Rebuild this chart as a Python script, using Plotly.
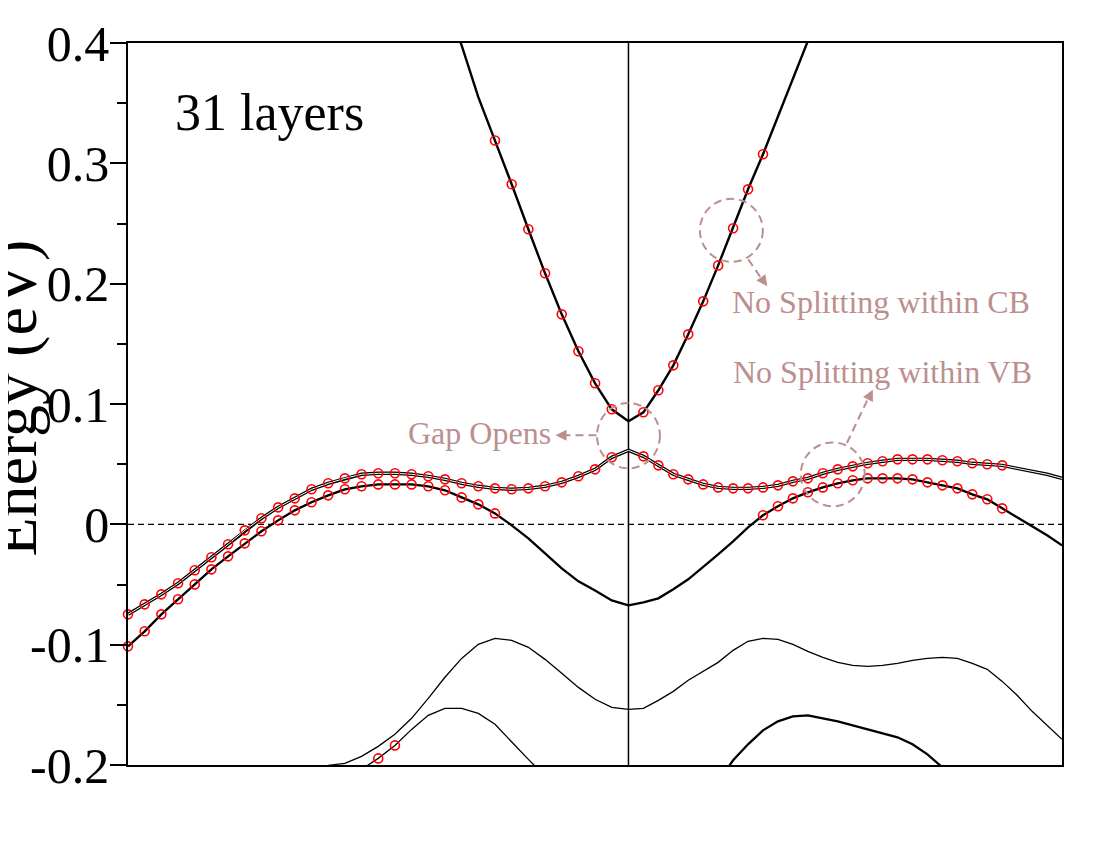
import numpy as np
import plotly.graph_objects as go

# ---------------- data (energies in eV) ----------------
# k-path sampling: 30 steps from the left zone edge to Gamma, 29 steps from Gamma to the right edge
K_LEFT = np.linspace(-1.0, 0.0, 31)
K_RIGHT = np.linspace(0.0, 0.8663, 30)

CB_LEFT = [None] * 19 + [0.439, 0.398, 0.355, 0.319, 0.2826, 0.2452, 0.2086, 0.1745,
                         0.1438, 0.1172, 0.0956, 0.0856]
CB_RIGHT = [0.0856, 0.0931, 0.1114, 0.1321, 0.1579, 0.1853, 0.2152, 0.2460, 0.2784,
            0.3075, 0.339, 0.3706, 0.4014, 0.433] + [None] * 16

VBA_LEFT = [-0.0748, -0.0665, -0.0582, -0.0490, -0.0382, -0.0274, -0.0166, -0.0050,
            0.0050, 0.0141, 0.0216, 0.0291, 0.0341, 0.0382, 0.0416, 0.0424, 0.0424,
            0.0416, 0.0399, 0.0374, 0.0341, 0.0316, 0.0299, 0.0291, 0.0299, 0.0316,
            0.0349, 0.0399, 0.0457, 0.0557, 0.0615]
VBA_RIGHT = [0.0615, 0.0565, 0.0490, 0.0416, 0.0374, 0.0332, 0.0307, 0.0299, 0.0299,
             0.0307, 0.0324, 0.0357, 0.0382, 0.0424, 0.0457, 0.0482, 0.0507, 0.0524,
             0.0540, 0.0540, 0.0540, 0.0532, 0.0524, 0.0507, 0.0499, 0.0490, 0.0465,
             0.0440, 0.0416, 0.0382]

VBB_LEFT = [-0.1014, -0.0889, -0.0748, -0.0623, -0.0499, -0.0374, -0.0266, -0.0158,
            -0.0058, 0.0033, 0.0116, 0.0183, 0.0241, 0.0291, 0.0316, 0.0332, 0.0332,
            0.0332, 0.0316, 0.0283, 0.0224, 0.0166, 0.0091, -0.0008, -0.0116, -0.0241,
            -0.0366, -0.0474, -0.0549, -0.0632, -0.0673]
VBB_RIGHT = [-0.0673, -0.0648, -0.0615, -0.0540, -0.0457, -0.0357, -0.0249, -0.0141,
             -0.0025, 0.0075, 0.0150, 0.0216, 0.0266, 0.0307, 0.0341, 0.0366, 0.0382,
             0.0382, 0.0382, 0.0374, 0.0349, 0.0324, 0.0299, 0.0249, 0.0208, 0.0133,
             0.0058, -0.0017, -0.0091, -0.0175]

VBC_LEFT = [None] * 10 + [-0.205, -0.2015, -0.2003, -0.1986, -0.1928, -0.1845, -0.1745,
                          -0.1612, -0.1446, -0.1271, -0.1114, -0.0997, -0.0947, -0.0964,
                          -0.1022, -0.1122, -0.1238, -0.1355, -0.1454, -0.1521, -0.1537]
VBC_RIGHT = [-0.1537, -0.1529, -0.1463, -0.1388, -0.1296, -0.1222, -0.1147, -0.1047,
             -0.0972, -0.0947, -0.0956, -0.0997, -0.1055, -0.1105, -0.1147, -0.1172,
             -0.1180, -0.1172, -0.1155, -0.1130, -0.1114, -0.1105, -0.1114, -0.1155,
             -0.1205, -0.1305, -0.1421, -0.1554, -0.1670, -0.1787]

VBD_LEFT = [None] * 14 + [-0.2036, -0.1945, -0.1837, -0.1704, -0.1587, -0.1529, -0.1529,
                          -0.1571, -0.1662, -0.1812, -0.1953, -0.2094] + [None] * 5
VBD_RIGHT = [None] * 6 + [-0.2136, -0.1961, -0.1828, -0.1712, -0.1637, -0.1596, -0.1587,
                          -0.1612, -0.1637, -0.1670, -0.1704, -0.1737, -0.1770, -0.1828,
                          -0.1911, -0.2020, -0.2152] + [None] * 7

# indices (left: i, right: j) of the k-points carrying the red circle markers
CB_MARK_LEFT, CB_MARK_RIGHT = list(range(22, 30)), list(range(1, 10))
VBA_MARK_LEFT, VBA_MARK_RIGHT = list(range(0, 30)), list(range(1, 26))
VBB_MARK_LEFT, VBB_MARK_RIGHT = list(range(0, 23)), list(range(9, 26))
VBD_MARK_LEFT = [15, 16]

Y_TICKS = [-0.2, -0.1, 0.0, 0.1, 0.2, 0.3, 0.4]
Y_TICK_TEXT = ["-0.2", "-0.1", "0", "0.1", "0.2", "0.3", "0.4"]

SERIF = "Liberation Serif, Times New Roman, serif"
ANNOT = "#BC8F8F"

fig = go.Figure()


def band(k, e, width, double=False):
    fig.add_trace(go.Scatter(x=list(k), y=e, mode="lines",
                             line=dict(color="black", width=width),
                             hoverinfo="skip", showlegend=False))
    if double:
        fig.add_trace(go.Scatter(x=list(k), y=e, mode="lines",
                                 line=dict(color="white", width=1.0),
                                 hoverinfo="skip", showlegend=False))


def marks(k, e, idx):
    fig.add_trace(go.Scatter(x=[k[i] for i in idx], y=[e[i] for i in idx], mode="markers",
                             marker=dict(symbol="circle-open", color="red", size=9,
                                         line=dict(width=1.6, color="red")),
                             cliponaxis=False, hoverinfo="skip", showlegend=False))


band(K_LEFT, VBC_LEFT, 1.3)
band(K_RIGHT, VBC_RIGHT, 1.3)
band(K_LEFT, VBD_LEFT, 1.3)
band(K_RIGHT, VBD_RIGHT, 2.3)
band(K_LEFT, VBB_LEFT, 2.3)
band(K_RIGHT, VBB_RIGHT, 2.3)
band(K_LEFT, VBA_LEFT, 3.4, double=True)
band(K_RIGHT, VBA_RIGHT, 3.4, double=True)
band(K_LEFT, CB_LEFT, 2.4)
band(K_RIGHT, CB_RIGHT, 2.4)

marks(K_LEFT, VBD_LEFT, VBD_MARK_LEFT)
marks(K_LEFT, VBB_LEFT, VBB_MARK_LEFT)
marks(K_RIGHT, VBB_RIGHT, VBB_MARK_RIGHT)
marks(K_LEFT, VBA_LEFT, VBA_MARK_LEFT)
marks(K_RIGHT, VBA_RIGHT, VBA_MARK_RIGHT)
marks(K_LEFT, CB_LEFT, CB_MARK_LEFT)
marks(K_RIGHT, CB_RIGHT, CB_MARK_RIGHT)

shapes = [
    # Gamma vertical line and Fermi level
    dict(type="line", xref="x", yref="paper", x0=0, x1=0, y0=0, y1=1,
         line=dict(color="black", width=1.5), layer="below"),
    dict(type="line", xref="paper", yref="y", x0=0, x1=1, y0=0, y1=0,
         line=dict(color="black", width=1.3, dash="6px,4px"), layer="below"),
    # dashed highlight circles
    dict(type="circle", xref="x", yref="y", x0=-0.0629, x1=0.0629, y0=0.0465, y1=0.1008,
         line=dict(color=ANNOT, width=2, dash="8px,5px")),
    dict(type="circle", xref="x", yref="y", x0=0.1427, x1=0.2685, y0=0.2181, y1=0.2705,
         line=dict(color=ANNOT, width=2, dash="8px,5px")),
    dict(type="circle", xref="x", yref="y", x0=0.3443, x1=0.4721, y0=0.0150, y1=0.0681,
         line=dict(color=ANNOT, width=2, dash="8px,5px")),
    # dashed arrow shafts
    dict(type="line", xref="x", yref="y", x0=-0.0639, x1=-0.1337, y0=0.0740, y1=0.0740,
         line=dict(color=ANNOT, width=2, dash="8px,5px")),
    dict(type="line", xref="x", yref="y", x0=0.2395, x1=0.2695, y0=0.2202, y1=0.2019,
         line=dict(color=ANNOT, width=2, dash="8px,5px")),
    dict(type="line", xref="x", yref="y", x0=0.4365, x1=0.4810, y0=0.0676, y1=0.1064,
         line=dict(color=ANNOT, width=2, dash="8px,5px")),
]

annotations = [
    dict(text="31 layers", xref="paper", yref="paper", x=(172 - 127) / 935, y=(765 - 113) / 722,
         xanchor="left", yanchor="middle", showarrow=False,
         font=dict(family=SERIF, size=52, color="black")),
    dict(text="Energy (eV)", xref="paper", yref="paper", x=(50 - 127) / 935, y=(765 - 398) / 722,
         xanchor="right", yanchor="middle", textangle=-90, showarrow=False,
         font=dict(family=SERIF, size=64, color="black")),
    dict(text="Gap Opens", xref="x", yref="y", x=-0.1517, y=0.0755, xanchor="right",
         yanchor="middle", showarrow=False, font=dict(family=SERIF, size=32, color=ANNOT)),
    dict(text="No Splitting within CB", xref="x", yref="y", x=0.2036, y=0.1850, xanchor="left",
         yanchor="middle", showarrow=False, font=dict(family=SERIF, size=32, color=ANNOT)),
    dict(text="No Splitting within VB", xref="x", yref="y", x=0.2056, y=0.1265, xanchor="left",
         yanchor="middle", showarrow=False, font=dict(family=SERIF, size=32, color=ANNOT)),
    # arrow heads
    dict(text="", xref="x", yref="y", x=-0.1457, y=0.0740, ax=9, ay=0, showarrow=True,
         arrowhead=2, arrowsize=1.1, arrowwidth=2, arrowcolor=ANNOT),
    dict(text="", xref="x", yref="y", x=0.2774, y=0.1978, ax=-5, ay=-7, showarrow=True,
         arrowhead=2, arrowsize=1.1, arrowwidth=2, arrowcolor=ANNOT),
    dict(text="", xref="x", yref="y", x=0.4884, y=0.1119, ax=-4, ay=8, showarrow=True,
         arrowhead=2, arrowsize=1.1, arrowwidth=2, arrowcolor=ANNOT),
]

fig.update_layout(
    width=1100, height=850,
    margin=dict(l=120, r=46, t=35, b=93),
    paper_bgcolor="white", plot_bgcolor="white",
    showlegend=False,
    shapes=shapes,
    annotations=annotations,
    xaxis=dict(range=[-1.0, 0.8663], showticklabels=False, ticks="", showgrid=False,
               zeroline=False, showline=True, mirror=True, linecolor="black", linewidth=1.5,
               automargin=False),
    yaxis=dict(range=[-0.2, 0.4], tickmode="array", tickvals=Y_TICKS, ticktext=Y_TICK_TEXT,
               ticks="outside", ticklen=16, tickwidth=1.5, tickcolor="black",
               ticklabelstandoff=-9, automargin=False,
               tickfont=dict(family=SERIF, size=50, color="black"),
               minor=dict(tickmode="linear", tick0=-0.2, dtick=0.05, ticks="outside",
                          ticklen=9, tickwidth=1.5, tickcolor="black"),
               showgrid=False, zeroline=False, showline=True, mirror=True,
               linecolor="black", linewidth=1.5),
)

fig.write_html("out.html")
